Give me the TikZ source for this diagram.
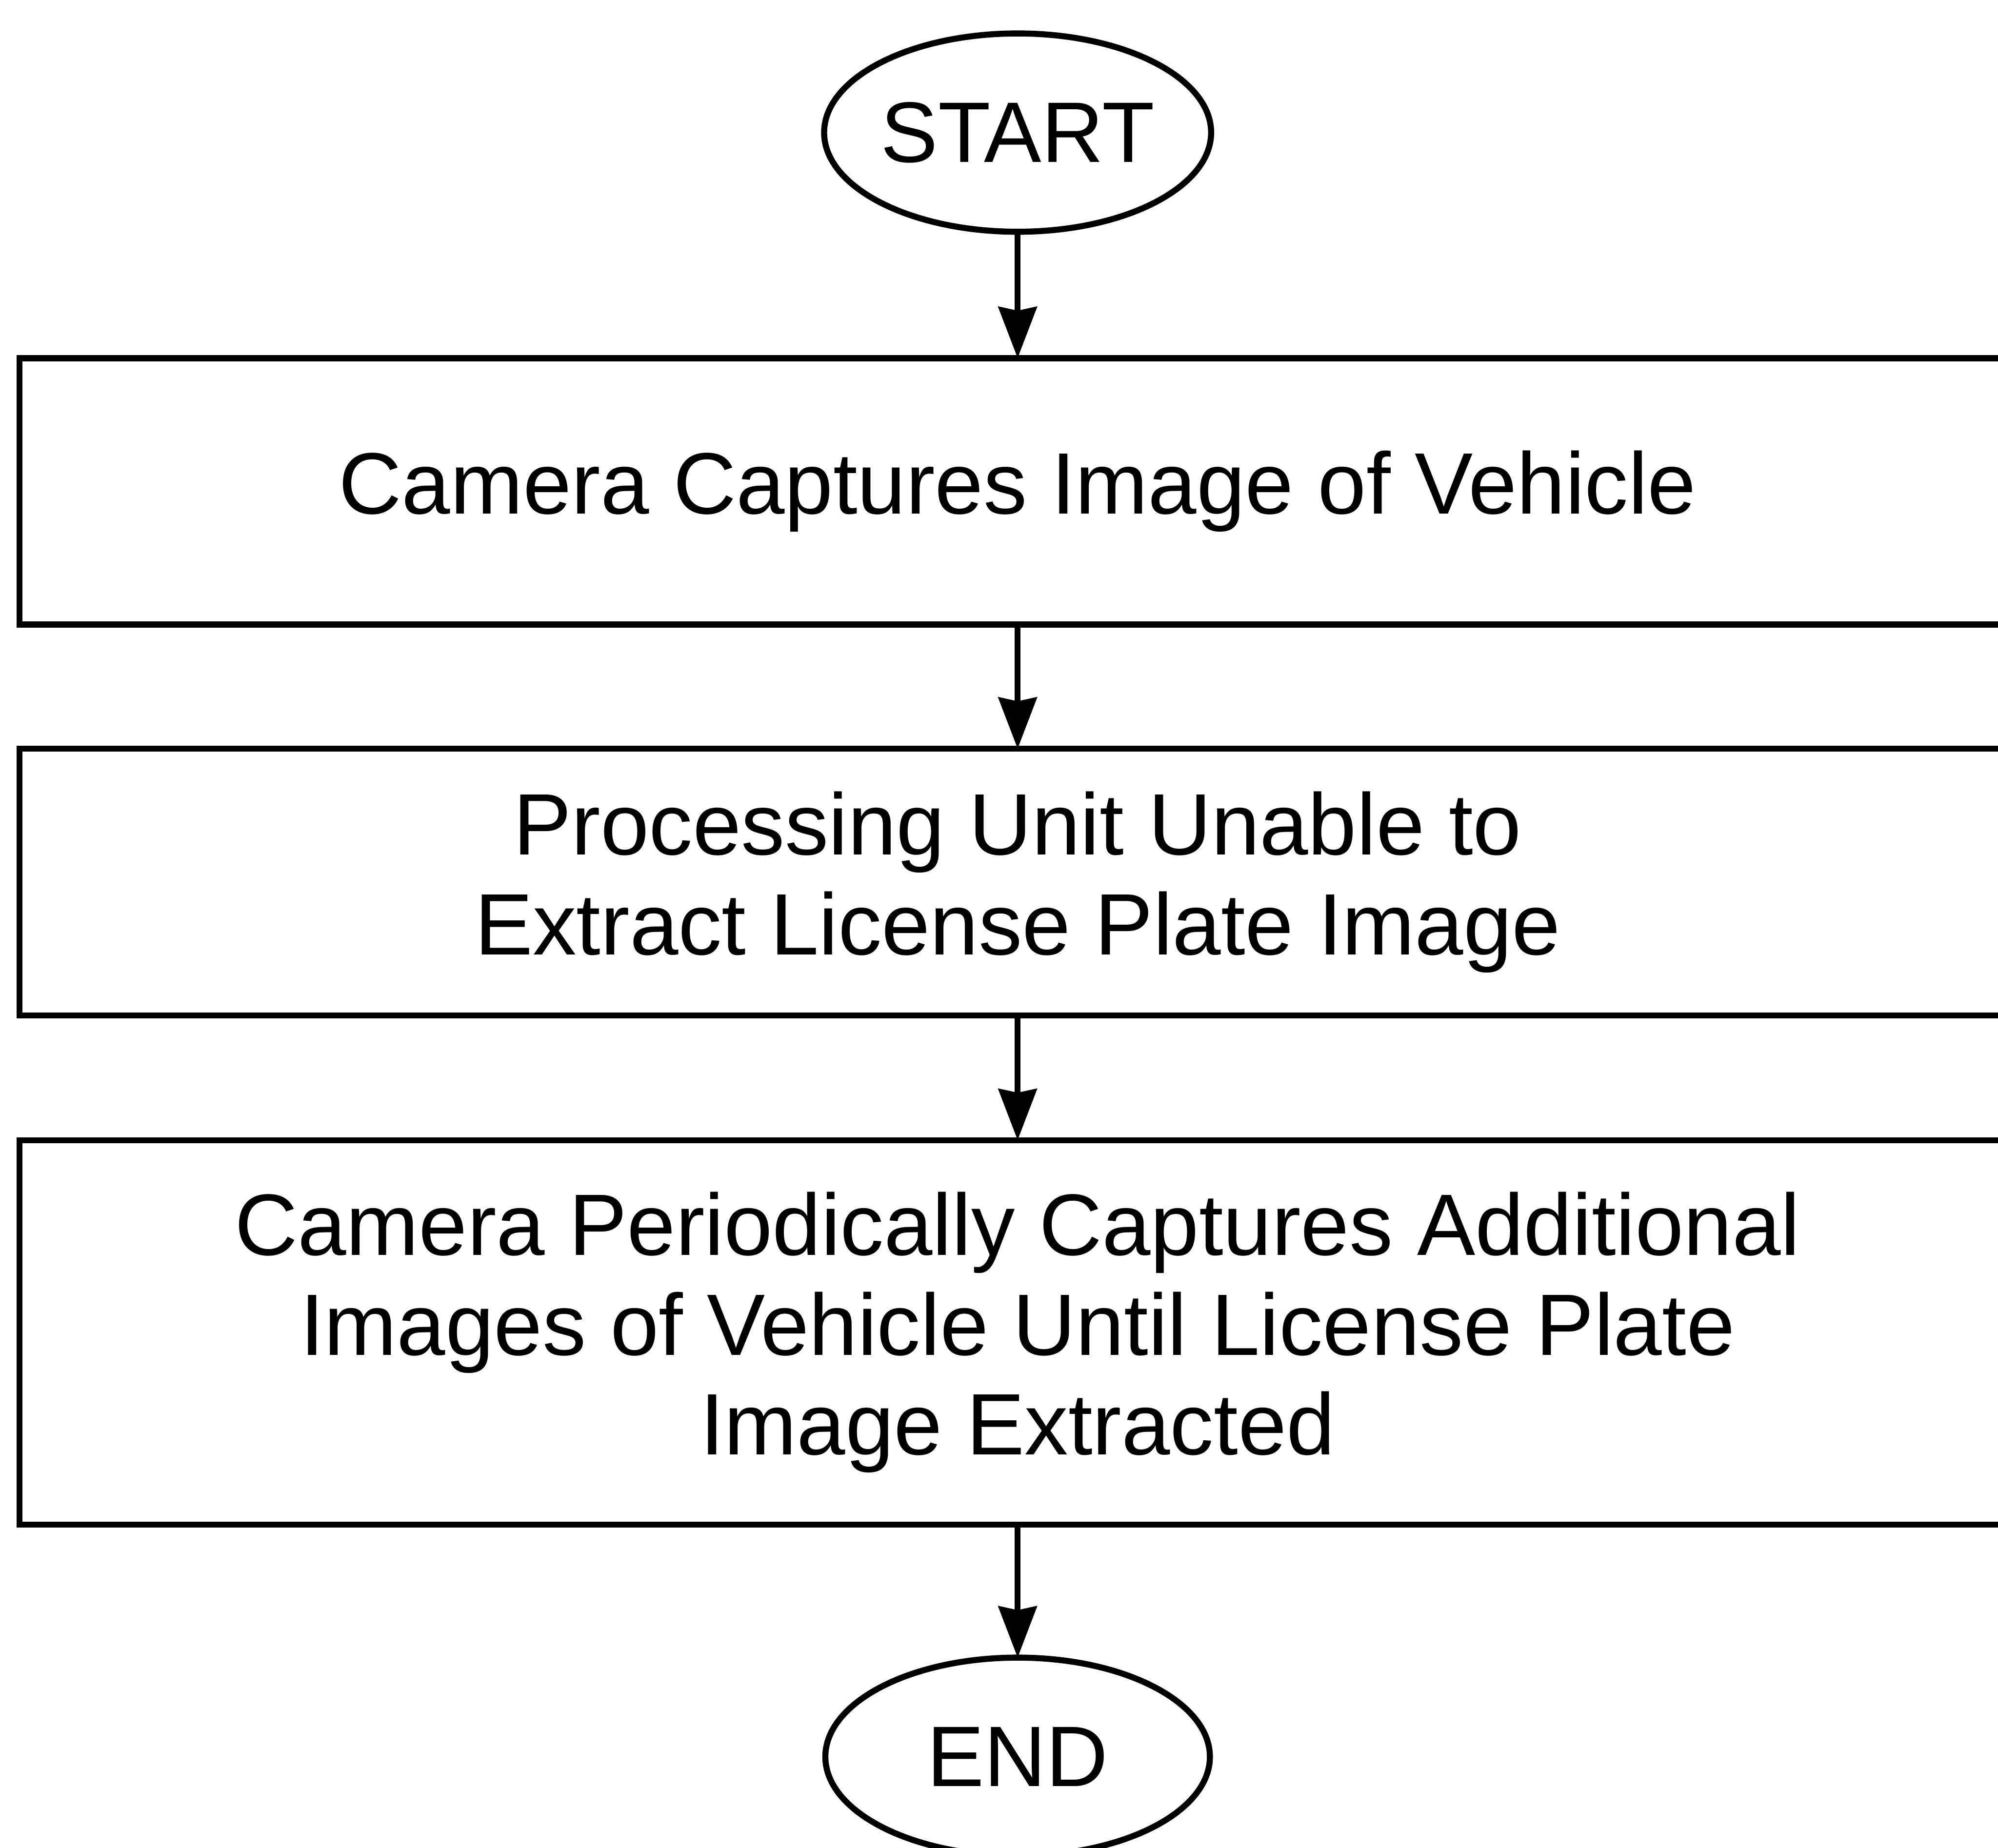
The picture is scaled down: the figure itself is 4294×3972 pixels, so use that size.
\documentclass[tikz,border=0pt]{standalone}
\usepackage{fontspec}
\setmainfont{Liberation Sans}
\usetikzlibrary{shapes.geometric,arrows.meta}

\tikzset{
  stepbox/.style={draw=black, line width=3.7pt, rectangle, inner sep=0pt, outer sep=0pt,
    minimum width=42.88cm, align=center,
    font=\fontsize{53.3}{61}\selectfont},
  terminal/.style={draw=black, line width=3.7pt, ellipse, inner sep=0pt, outer sep=0pt,
    minimum width=8.26cm, minimum height=4.26cm,
    font=\fontsize{52.5}{60}\selectfont},
  flow/.style={draw=black, line width=3.7pt,
    -{Stealth[length=1.1cm, width=0.82cm, inset=0.08cm]}}
}

\begin{document}
\begin{tikzpicture}[x=0.01cm, y=-0.01cm]
  % page frame; the process boxes run off its right side
  \clip (0,0) rectangle (4294,3972);
  \fill[white] (0,0) rectangle (4294,3972);

  \node[terminal] (start) at (2187,285) {START};

  \node[stepbox, minimum height=5.72cm] (capture) at (2187,1056)
    {Camera Captures Image of Vehicle};

  \node[stepbox, minimum height=5.73cm] (unable) at (2187,1896)
    {Processing Unit Unable to\\Extract License Plate Image};

  \node[stepbox, minimum height=8.26cm] (retry) at (2187,2864)
    {Camera Periodically Captures Additional\\Images of Vehicle Until License Plate\\Image Extracted};

  \node[terminal] (end) at (2187,3776) {END};

  \draw[flow] (start) -- (capture);
  \draw[flow] (capture) -- (unable);
  \draw[flow] (unable) -- (retry);
  \draw[flow] (retry) -- (end);
\end{tikzpicture}
\end{document}
